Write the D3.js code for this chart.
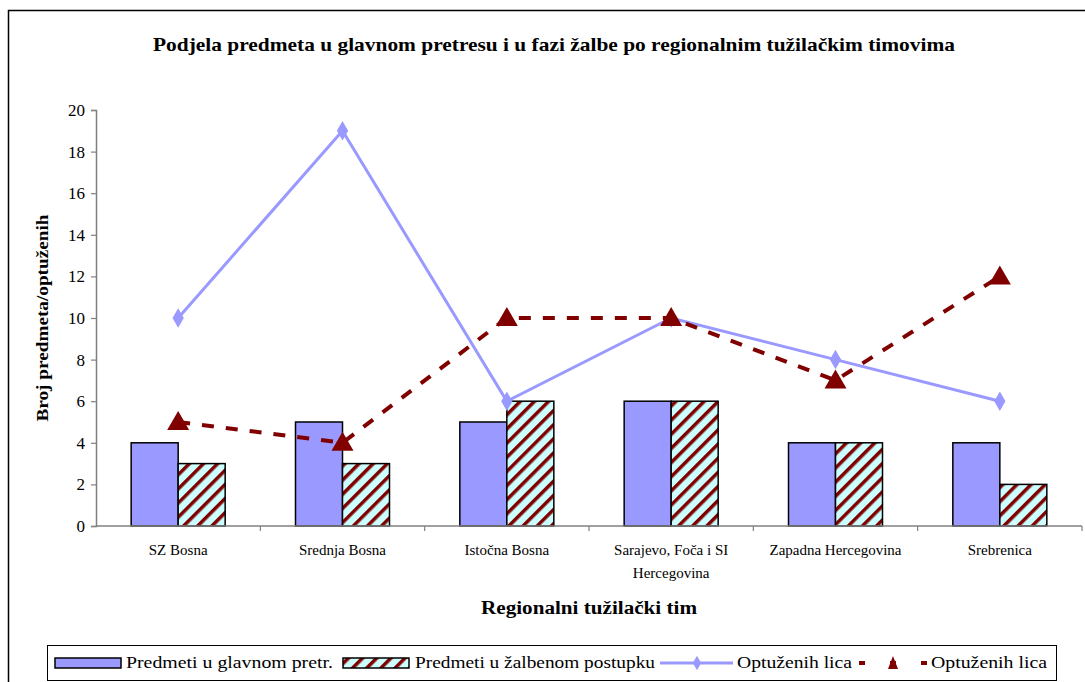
<!DOCTYPE html>
<html><head><meta charset="utf-8">
<script src="https://cdn.jsdelivr.net/npm/d3@7"></script>
<style>body{margin:0;background:#fff}svg{display:block}svg text{font-family:'Liberation Serif','Times New Roman','DejaVu Serif',serif !important}</style>
</head><body>
<svg id="c" width="1085" height="682"></svg>
<script>
const categories = ["SZ Bosna","Srednja Bosna","Istočna Bosna","Sarajevo, Foča i SI|Hercegovina","Zapadna Hercegovina","Srebrenica"];
const glavnom = [4,5,5,6,4,4];
const zalbenom = [3,3,6,6,4,2];
const optuzeniBlue = [10,19,6,10,8,6];
const optuzeniRed = [5,4,10,10,7,12];
const yTicks = [0,2,4,6,8,10,12,14,16,18,20];
const seriesNames = ["Predmeti u glavnom pretr.","Predmeti u žalbenom postupku","Optuženih lica","Optuženih lica"];

const FF = "'Liberation Serif','Times New Roman','DejaVu Serif',serif";
const svg = d3.select("#c");
const defs = svg.append("defs");
const pat = defs.append("pattern").attr("id","hatch").attr("patternUnits","userSpaceOnUse")
  .attr("width",10).attr("height",10).attr("patternTransform","rotate(45)");
pat.append("rect").attr("width",10).attr("height",10).attr("fill","#ccffff");
pat.append("rect").attr("x",0).attr("width",3.5).attr("height",10).attr("fill","#800000");

// outer border
svg.append("path").attr("d","M8.5,682 V10.5 H1085").attr("fill","none").attr("stroke","#000").attr("stroke-width",1.5);

const x0 = 96, x1 = 1082, yTop = 110, yBot = 526;
const x = d3.scaleBand().domain(d3.range(categories.length)).range([x0,x1]);
const y = d3.scaleLinear().domain([0,20]).range([yBot,yTop]);
const bw = 47;

svg.append("text").attr("x",554).attr("y",51).attr("text-anchor","middle").attr("font-family",FF)
  .attr("font-size",19).attr("font-weight","bold").attr("textLength",802).attr("lengthAdjust","spacingAndGlyphs")
  .text("Podjela predmeta u glavnom pretresu i u fazi žalbe po regionalnim tužilačkim timovima");

// y axis
const ya = svg.append("g").attr("transform",`translate(${x0},0)`)
  .call(d3.axisLeft(y).tickValues(yTicks).tickSize(5).tickPadding(6));
ya.attr("font-family",FF);
ya.select(".domain").attr("stroke","#808080").attr("stroke-width",1.5);
ya.selectAll(".tick line").attr("stroke","#808080").attr("stroke-width",1.2);
ya.selectAll(".tick text").attr("font-size",17).attr("fill","#000");

svg.append("text").attr("transform",`translate(48,318) rotate(-90)`).attr("text-anchor","middle").attr("font-family",FF)
  .attr("font-size",17).attr("font-weight","bold").attr("textLength",207).attr("lengthAdjust","spacingAndGlyphs")
  .text("Broj predmeta/optuženih");

// bars
const g = svg.append("g");
g.selectAll(".b1").data(glavnom).join("rect")
  .attr("x",(d,i)=>x(i)+x.bandwidth()/2-bw).attr("y",d=>y(d)).attr("width",bw).attr("height",d=>yBot-y(d))
  .attr("fill","#9999ff").attr("stroke","#000").attr("stroke-width",1.5);
g.selectAll(".b2").data(zalbenom).join("rect")
  .attr("x",(d,i)=>x(i)+x.bandwidth()/2).attr("y",d=>y(d)).attr("width",bw).attr("height",d=>yBot-y(d))
  .attr("fill","url(#hatch)").attr("stroke","#000").attr("stroke-width",1.5);

// x axis
const xa = svg.append("g").attr("transform",`translate(0,${yBot})`).attr("font-family",FF);
xa.append("line").attr("x1",x0).attr("x2",x1).attr("stroke","#808080").attr("stroke-width",1.5);
xa.selectAll(".tk").data(d3.range(categories.length)).join("line")
  .attr("x1",i=>x(i)+x.bandwidth()).attr("x2",i=>x(i)+x.bandwidth()).attr("y1",0).attr("y2",5).attr("stroke","#808080").attr("stroke-width",1.2);
xa.selectAll(".lbl").data(categories).join("text")
  .attr("text-anchor","middle").attr("font-size",15)
  .each(function(d,i){
    const parts = d.split("|");
    const t = d3.select(this);
    parts.forEach((p,k)=>t.append("tspan").attr("x",x(i)+x.bandwidth()/2).attr("y",29+k*23).text(p));
  });
svg.append("text").attr("x",589).attr("y",614).attr("text-anchor","middle").attr("font-family",FF)
  .attr("font-size",18).attr("font-weight","bold").attr("textLength",216).attr("lengthAdjust","spacingAndGlyphs")
  .text("Regionalni tužilački tim");

const cx = i => x(i)+x.bandwidth()/2;
// blue line
svg.append("path").datum(optuzeniBlue)
  .attr("d",d3.line().x((d,i)=>cx(i)).y(d=>y(d)))
  .attr("fill","none").attr("stroke","#9999ff").attr("stroke-width",3);
const diamond = d3.symbol().type(d3.symbolDiamond).size(110);
svg.selectAll(".dm").data(optuzeniBlue).join("path")
  .attr("transform",(d,i)=>`translate(${cx(i)},${y(d)})`).attr("d",diamond).attr("fill","#9999ff");

// red dashed line
svg.append("path").datum(optuzeniRed)
  .attr("d",d3.line().x((d,i)=>cx(i)).y(d=>y(d)))
  .attr("fill","none").attr("stroke","#800000").attr("stroke-width",4).attr("stroke-dasharray","12,12");
const tri = "M0,-11 L11,8 L-11,8 Z";
svg.selectAll(".tr").data(optuzeniRed).join("path")
  .attr("transform",(d,i)=>`translate(${cx(i)},${y(d)})`).attr("d",tri).attr("fill","#800000");

// legend
const lg = svg.append("g").attr("font-family",FF);
lg.append("rect").attr("x",47.5).attr("y",645.5).attr("width",1009).attr("height",35).attr("fill","#fff").attr("stroke","#000").attr("stroke-width",1);
const ly = 663;
lg.append("rect").attr("x",55).attr("y",ly-5).attr("width",66).attr("height",10).attr("fill","#9999ff").attr("stroke","#000").attr("stroke-width",1.5);
lg.append("text").attr("x",126).attr("y",ly+5).attr("font-size",17).attr("textLength",207).attr("lengthAdjust","spacingAndGlyphs").text(seriesNames[0]);
lg.append("rect").attr("x",343).attr("y",ly-5).attr("width",66).attr("height",10).attr("fill","url(#hatch)").attr("stroke","#000").attr("stroke-width",1.5);
lg.append("text").attr("x",415).attr("y",ly+5).attr("font-size",17).attr("textLength",240).attr("lengthAdjust","spacingAndGlyphs").text(seriesNames[1]);
lg.append("line").attr("x1",660).attr("x2",733).attr("y1",ly).attr("y2",ly).attr("stroke","#9999ff").attr("stroke-width",3);
lg.append("path").attr("transform",`translate(697,${ly})`).attr("d",d3.symbol().type(d3.symbolDiamond).size(60)).attr("fill","#9999ff");
lg.append("text").attr("x",737).attr("y",ly+5).attr("font-size",17).attr("textLength",115).attr("lengthAdjust","spacingAndGlyphs").text(seriesNames[2]);
lg.append("line").attr("x1",859).attr("x2",927).attr("y1",ly).attr("y2",ly).attr("stroke","#800000").attr("stroke-width",4).attr("stroke-dasharray","6,25");
lg.append("path").attr("transform",`translate(893,${ly})`).attr("d","M0,-7 L5,6 L-5,6 Z").attr("fill","#800000");
lg.append("text").attr("x",931).attr("y",ly+5).attr("font-size",17).attr("textLength",116).attr("lengthAdjust","spacingAndGlyphs").text(seriesNames[3]);
</script>
</body></html>
